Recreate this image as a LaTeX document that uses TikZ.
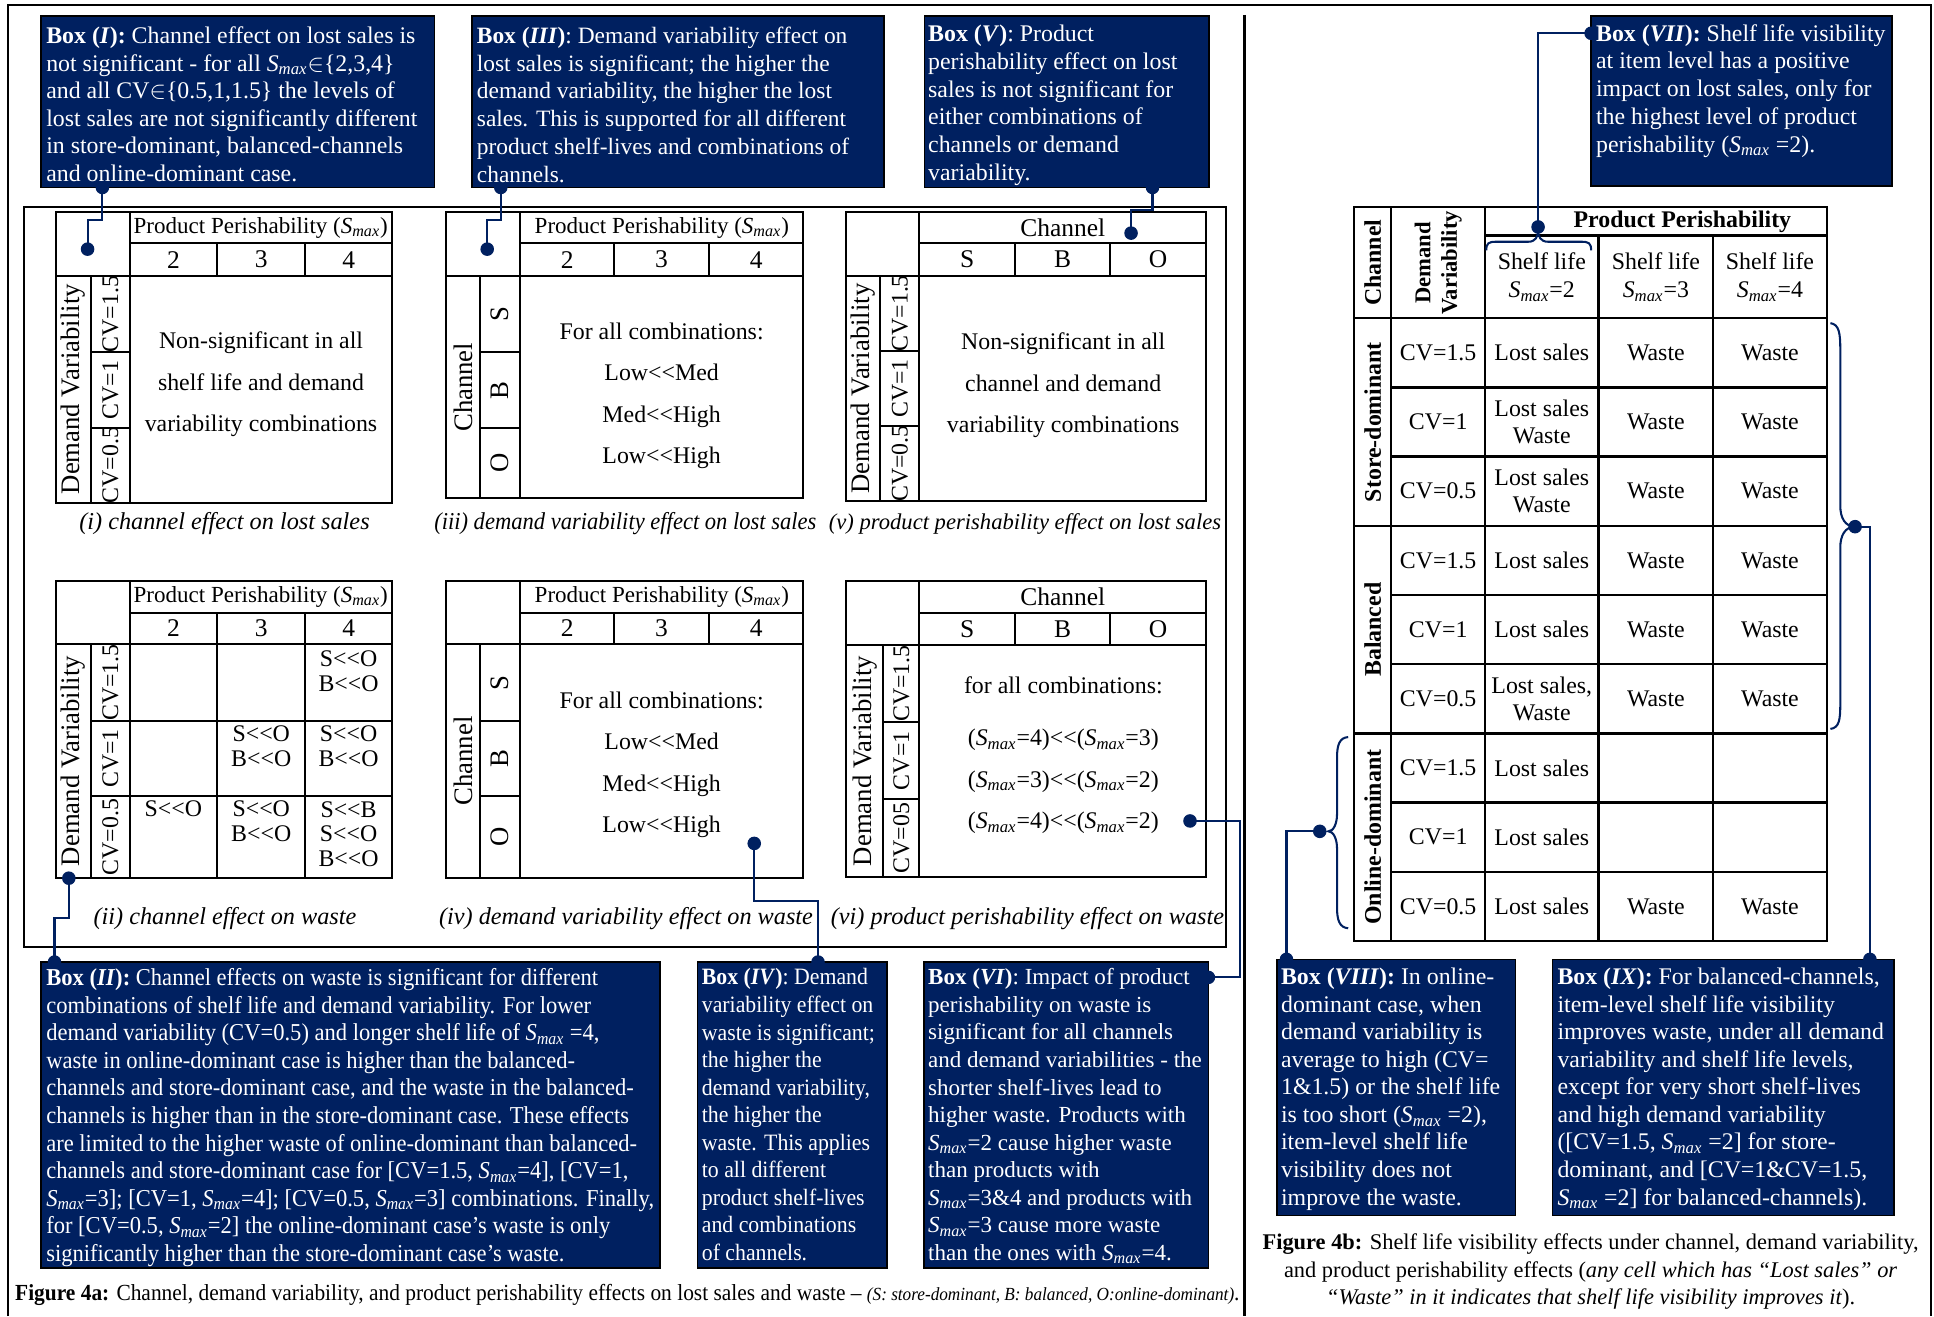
\documentclass[tikz,border=0pt]{standalone}
\usepackage{fontspec}
\setmainfont{Liberation Serif}
\newfontfamily\narrowf{Liberation Serif}[FakeStretch=0.93]
\usetikzlibrary{fit}
\definecolor{navy}{RGB}{0,32,96}
\newcommand{\Smx}{\textit{S}\textsubscript{\textit{max}}}
\newcommand{\dlt}{<\kern0pt<}
\begin{document}
\begin{tikzpicture}[x=0.6pt,y=-0.6pt,
  nbox/.style={draw=black,line width=0.8pt,fill=navy,inner sep=0pt},
  btext/.style={anchor=north west,inner sep=0pt,align=left,text=white,font=\fontsize{11.6}{13.4}\selectfont},
  gline/.style={line width=1pt},
  tlab/.style={inner sep=0pt,align=center,font=\fontsize{11.6}{13.4}\selectfont},
  hdr/.style={inner sep=0pt,align=center,font=\fontsize{11.2}{13.4}\selectfont},
  num/.style={inner sep=0pt,font=\fontsize{12.4}{14}\selectfont},
  cell/.style={inner sep=0pt,align=center,font=\fontsize{11.6}{12.1}\selectfont},
  body/.style={inner sep=0pt,align=center,font=\fontsize{11.6}{20.2}\selectfont},
  rlab/.style={inner sep=0pt,rotate=90,font=\fontsize{11.6}{13.4}\selectfont},
  big/.style={inner sep=0pt,rotate=90,font=\fontsize{13}{15}\selectfont},
  capt/.style={inner sep=0pt,font=\fontsize{11.8}{14}\selectfont\itshape},
  conn/.style={draw=navy,line width=1pt},
  pin/.style={circle,fill=navy,inner sep=0pt,minimum size=6.6pt},
  hb/.style={inner sep=0pt,align=center,font=\fontsize{11.6}{13.3}\selectfont\bfseries}
]
\useasboundingbox (0,0) rectangle (1568,1067);

% frames
\draw[line width=1.1pt] (6.4,1067) -- (6.4,4) -- (1565.6,4) -- (1565.6,1067);
\draw[line width=1.1pt] (1009,12) -- (1009,1067);
\draw[line width=1pt] (19.3,167.6) rectangle (994,767.5);

% ---------- table (i)
\draw[gline] (45.1,171.6) rectangle (317.6,407.5);
\draw[gline] (45.1,223.8) -- (317.6,223.8);
\draw[gline] (105.2,171.6) -- (105.2,407.5);
\draw[gline] (105.2,197.3) -- (317.6,197.3);
\draw[gline] (176,197.3) -- (176,223.8) (247.6,197.3) -- (247.6,223.8);
\draw[gline] (73.8,223.8) -- (73.8,407.5);
\draw[gline] (73.8,285.7) -- (105.2,285.7) (73.8,346.7) -- (105.2,346.7);
\node[hdr] (pp1) at (211.4,184.5) {Product Perishability (\Smx)};
\node[num] (n1a) at (140.6,210.5) {2};
\node[num] (n1b) at (211.8,210.5) {3};
\node[num] (n1c) at (282.8,210.5) {4};
\node[big] (dv1) at (59.5,315.6) {Demand Variability};
\node[rlab] (cv1a) at (89.5,254.7) {CV=1.5};
\node[rlab] (cv1b) at (89.5,316.2) {CV=1};
\node[rlab] (cv1c) at (89.5,377.1) {CV=0.5};
\node[body] (bd1) at (211.6,311.5) {Non-significant in all\\shelf life and demand\\variability combinations};
\node[capt] (cp1) at (182,424.5) {(i) channel effect on lost sales};

% ---------- table (iii)
\draw[gline] (361.8,171.6) rectangle (651.4,404);
\draw[gline] (361.8,223.8) -- (651.4,223.8);
\draw[gline] (421.9,171.6) -- (421.9,404);
\draw[gline] (421.9,197.3) -- (651.4,197.3);
\draw[gline] (497.8,197.3) -- (497.8,223.8) (575,197.3) -- (575,223.8);
\draw[gline] (389.2,223.8) -- (389.2,404);
\draw[gline] (389.2,285.7) -- (421.9,285.7) (389.2,347) -- (421.9,347);
\node[hdr] (pp3) at (536.6,184.5) {Product Perishability (\Smx)};
\node[num] (n3a) at (459.9,210.5) {2};
\node[num] (n3b) at (536.4,210.5) {3};
\node[num] (n3c) at (613.2,210.5) {4};
\node[big] (ch3) at (375.5,314) {Channel};
\node[big] (s3) at (405.5,254.7) {S};
\node[big] (bb3) at (405.5,316.3) {B};
\node[big] (o3) at (405.5,375.5) {O};
\node[body] (bd3) at (536.4,321) {For all combinations:\\Low\dlt Med\\Med\dlt High\\Low\dlt High};
\node[capt,font=\narrowf\fontsize{11.8}{14}\selectfont\itshape] (cp3) at (507,424.5) {(iii) demand variability effect on lost sales};

% ---------- table (v)
\draw[gline] (685.6,172.2) rectangle (977.8,406.2);
\draw[gline] (685.6,223.8) -- (977.8,223.8);
\draw[gline] (745.4,172.2) -- (745.4,406.2);
\draw[gline] (745.4,197.3) -- (977.8,197.3);
\draw[gline] (823,197.3) -- (823,223.8) (900,197.3) -- (900,223.8);
\draw[gline] (713.5,223.8) -- (713.5,406.2);
\draw[gline] (713.5,284.3) -- (745.4,284.3) (713.5,345.4) -- (745.4,345.4);
\node[num] (ch5) at (861.6,184.7) {Channel};
\node[num] (s5) at (784.2,210.5) {S};
\node[num] (bb5) at (861.5,210.5) {B};
\node[num] (o5) at (938.9,210.5) {O};
\node[big] (dv5) at (699.5,315) {Demand Variability};
\node[rlab] (cv5a) at (729.5,254) {CV=1.5};
\node[rlab] (cv5b) at (729.5,314.9) {CV=1};
\node[rlab] (cv5c) at (729.5,375.8) {CV=0.5};
\node[body] (bd5) at (862,312.3) {Non-significant in all\\channel and demand\\variability combinations};
\node[capt,font=\fontsize{11}{14}\selectfont\itshape] (cp5) at (831,424.5) {(v) product perishability effect on lost sales};

% ---------- table (ii)
\draw[gline] (45.1,470.8) rectangle (317.6,712.1);
\draw[gline] (45.1,522.4) -- (317.6,522.4);
\draw[gline] (105.2,470.8) -- (105.2,712.1);
\draw[gline] (105.2,496.7) -- (317.6,496.7);
\draw[gline] (176,496.7) -- (176,712.1) (247.6,496.7) -- (247.6,712.1);
\draw[gline] (73.8,522.4) -- (73.8,712.1);
\draw[gline] (73.8,584.6) -- (317.6,584.6) (73.8,645.4) -- (317.6,645.4);
\node[hdr] (pp2) at (211.4,483.7) {Product Perishability (\Smx)};
\node[num] (n2a) at (140.6,509.5) {2};
\node[num] (n2b) at (211.8,509.5) {3};
\node[num] (n2c) at (282.8,509.5) {4};
\node[big] (dv2) at (59.5,617) {Demand Variability};
\node[rlab] (cv2a) at (89.5,553.5) {CV=1.5};
\node[rlab] (cv2b) at (89.5,615) {CV=1};
\node[rlab] (cv2c) at (89.5,678.7) {CV=0.5};
\node[cell] (e13) at (282.6,544.5) {S\dlt O\\B\dlt O};
\node[cell] (e22) at (211.8,605.3) {S\dlt O\\B\dlt O};
\node[cell] (e23) at (282.6,605.3) {S\dlt O\\B\dlt O};
\node[cell] (e31) at (140.6,656) {S\dlt O};
\node[cell] (e32) at (211.8,666.1) {S\dlt O\\B\dlt O};
\node[cell] (e33) at (282.6,676.3) {S\dlt B\\S\dlt O\\B\dlt O};
\node[capt] (cp2) at (182.4,745) {(ii) channel effect on waste};

% ---------- table (iv)
\draw[gline] (361.8,470.8) rectangle (651.4,712);
\draw[gline] (361.8,522.4) -- (651.4,522.4);
\draw[gline] (421.9,470.8) -- (421.9,712);
\draw[gline] (421.9,496.7) -- (651.4,496.7);
\draw[gline] (497.8,496.7) -- (497.8,522.4) (575,496.7) -- (575,522.4);
\draw[gline] (389.2,522.4) -- (389.2,712);
\draw[gline] (389.2,584.6) -- (421.9,584.6) (389.2,645.4) -- (421.9,645.4);
\node[hdr] (pp4) at (536.6,483.7) {Product Perishability (\Smx)};
\node[num] (n4a) at (459.9,509.5) {2};
\node[num] (n4b) at (536.4,509.5) {3};
\node[num] (n4c) at (613.2,509.5) {4};
\node[big] (ch4) at (375.5,617) {Channel};
\node[big] (s4) at (405.5,553.5) {S};
\node[big] (bb4) at (405.5,615) {B};
\node[big] (o4) at (405.5,678.7) {O};
\node[body] (bd4) at (536.4,619.9) {For all combinations:\\Low\dlt Med\\Med\dlt High\\Low\dlt High};
\node[capt] (cp4) at (507.5,745) {(iv) demand variability effect on waste};

% ---------- table (vi)
\draw[gline] (685.6,470.8) rectangle (977.8,710.8);
\draw[gline] (685.6,523) -- (977.8,523);
\draw[gline] (745.4,470.8) -- (745.4,710.8);
\draw[gline] (745.4,496.7) -- (977.8,496.7);
\draw[gline] (823,496.7) -- (823,523) (900,496.7) -- (900,523);
\draw[gline] (716.2,523) -- (716.2,710.8);
\draw[gline] (716.2,585.6) -- (745.4,585.6) (716.2,648) -- (745.4,648);
\node[num] (ch6) at (861.6,483.7) {Channel};
\node[num] (s6) at (784.2,509.8) {S};
\node[num] (bb6) at (861.5,509.8) {B};
\node[num] (o6) at (938.9,509.8) {O};
\node[big] (dv6) at (701,617) {Demand Variability};
\node[rlab] (cv6a) at (730.8,554.3) {CV=1.5};
\node[rlab] (cv6b) at (730.8,616.8) {CV=1};
\node[rlab] (cv6c) at (730.8,679.4) {CV=05};
\node[body,font=\fontsize{11.6}{20.1}\selectfont] (bd6) at (862.1,612.2) {for all combinations:\\[5.4pt](\Smx=4)\dlt(\Smx=3)\\(\Smx=3)\dlt(\Smx=2)\\(\Smx=4)\dlt(\Smx=2)};
\node[capt] (cp6) at (833,745) {(vi) product perishability effect on waste};

% ---------- table 4b
\draw[line width=1.1pt] (1098,168) rectangle (1481,762.9);
\draw[line width=1.1pt] (1128,168) -- (1128,762.9) (1204,168) -- (1204,762.9);
\draw[line width=1.1pt] (1296,191) -- (1296,762.9) (1389,191) -- (1389,762.9);
\draw[line width=1.1pt] (1204,191) -- (1481,191) (1098,258) -- (1481,258);
\draw[line width=1.1pt] (1128,314.1) -- (1481,314.1) (1128,370.2) -- (1481,370.2) (1098,426.3) -- (1481,426.3);
\draw[line width=1.1pt] (1128,482.4) -- (1481,482.4) (1128,538.5) -- (1481,538.5) (1098,594.6) -- (1481,594.6);
\draw[line width=1.1pt] (1128,650.7) -- (1481,650.7) (1128,706.8) -- (1481,706.8);
\node[hb] (pph) at (1364,179.5) {Product Perishability};
\node[hb,rotate=90] (chh) at (1113,213) {Channel};
\node[hb,rotate=90,font=\fontsize{11}{12.8}\selectfont\bfseries] (dvh) at (1166,213) {Demand\\Variability};
\node[tlab,font=\fontsize{11.6}{13.8}\selectfont] (sl2) at (1250,224.5) {Shelf life\\\Smx=2};
\node[tlab,font=\fontsize{11.6}{13.8}\selectfont] (sl3) at (1342.5,224.5) {Shelf life\\\Smx=3};
\node[tlab,font=\fontsize{11.6}{13.8}\selectfont] (sl4) at (1435,224.5) {Shelf life\\\Smx=4};
\node[hb,rotate=90] (sdh) at (1113,342.2) {Store-dominant};
\node[hb,rotate=90] (bah) at (1113,510.5) {Balanced};
\node[hb,rotate=90] (odh) at (1113,678.7) {Online-dominant};
\foreach \i/\cv in {0/1.5,1/1,2/0.5,3/1.5,4/1,5/0.5,6/1.5,7/1,8/0.5}
  \node[tlab] (cv\i) at (1166,{286.05+56.1*\i}) {CV=\cv};
\foreach \i in {0,3,4,6,7,8}
  \node[tlab] (ls\i) at (1250,{286.05+56.1*\i}) {Lost sales};
\node[cell,font=\fontsize{11.6}{13.2}\selectfont] (ls1) at (1250,342.15) {Lost sales\\Waste};
\node[cell,font=\fontsize{11.6}{13.2}\selectfont] (ls2) at (1250,398.25) {Lost sales\\Waste};
\node[cell,font=\fontsize{11.6}{13.2}\selectfont] (ls5) at (1250,566.55) {Lost sales,\\Waste};
\foreach \i in {0,1,2,3,4,5,8}{
  \node[tlab] (wa\i) at (1342.5,{286.05+56.1*\i}) {Waste};
  \node[tlab] (wb\i) at (1435,{286.05+56.1*\i}) {Waste};
}

% braces
\draw[conn] (1205,203) .. controls (1205,197) and (1207,196) .. (1213,196) -- (1239,196) .. controls (1245,196) and (1247,192) .. (1247,186)
  .. controls (1247,192) and (1249,196) .. (1255,196) -- (1282,196) .. controls (1288,196) and (1290,197) .. (1290,203);
\draw[conn] (1484,262) .. controls (1491,263) and (1492,270) .. (1492,283) -- (1492,410) .. controls (1492,420) and (1496,427) .. (1504,427)
  .. controls (1496,427) and (1492,434) .. (1492,444) -- (1492,571) .. controls (1492,584) and (1491,590) .. (1484,591);
\draw[conn] (1093,597.6) .. controls (1086,598) and (1084,604) .. (1084,614) -- (1084,660) .. controls (1084,668) and (1081,674) .. (1077,674)
  .. controls (1081,674) and (1084,680) .. (1084,688) -- (1084,736) .. controls (1084,746) and (1086,752) .. (1093,752.6);

% ---------- boxes
\node[nbox,fit={(33.5,13) (352.3,152)}] (b1) {};
\node[nbox,fit={(382.5,13) (716.7,152)}] (b3) {};
\node[nbox,fit={(749.5,13) (980,152)}] (b5) {};
\node[nbox,fit={(1290,13) (1534,151)}] (b7) {};
\node[nbox,fit={(33.5,780) (535.2,1028)}] (b2) {};
\node[nbox,fit={(565.4,780) (719,1028)}] (b4) {};
\node[nbox,fit={(749.2,780) (979.7,1028)}] (b6) {};
\node[nbox,fit={(1035.4,777.8) (1228.7,985.4)}] (b8) {};
\node[nbox,fit={(1258.8,777.8) (1535.7,985.4)}] (b9) {};

% ---------- connectors and pins
\node[pin] (d1a) at (83,152) {};
\node[pin] (d1b) at (71,202) {};
\draw[conn] (d1a.center) -- ++(0,26) -| (d1b.center);
\node[pin] (d3a) at (406,152) {};
\node[pin] (d3b) at (395,202) {};
\draw[conn] (d3a.center) -- ++(0,26) -| (d3b.center);
\node[pin] (d5a) at (934.4,152) {};
\node[pin] (d5b) at (917,189) {};
\draw[conn] (d5a.center) -- ++(0,18) -| (d5b.center);
\node[pin] (d2a) at (44.2,780) {};
\node[pin] (d2b) at (55.8,712) {};
\draw[conn] (d2a.center) -- ++(0,-35.4) -| (d2b.center);
\node[pin] (d4a) at (663.2,780) {};
\node[pin] (d4b) at (611.5,683.8) {};
\draw[conn] (d4a.center) -- ++(0,-49.8) -| (d4b.center);
\node[pin] (d6a) at (979.7,792.4) {};
\node[pin] (d6b) at (964.8,665.6) {};
\draw[conn] (d6a.center) -- ++(25.3,0) |- (d6b.center);
\node[pin] (d7a) at (1290,27) {};
\node[pin] (d7b) at (1247,184) {};
\draw[conn] (d7a.center) -| (d7b.center);
\node[pin] (d9a) at (1516,777.8) {};
\node[pin] (d9b) at (1504,427) {};
\draw[conn] (d9b.center) -| (d9a.center);
\node[pin] (d8a) at (1043,777.8) {};
\node[pin] (d8b) at (1070,674) {};
\draw[conn] (d8b.center) -| (d8a.center);

% ---------- box texts
\node[btext] (t1) at (37.2,21.5) {\textbf{Box (\textit{I}):} Channel effect on lost sales is\\
not significant - for all \Smx$\in$\{2,3,4\}\\
and all CV$\in$\{0.5,1,1.5\} the levels of\\
lost sales are not significantly different\\
in store-dominant, balanced-channels\\
and online-dominant case.};
\node[btext,font=\fontsize{11.4}{13.5}\selectfont] (t3) at (386.3,21.5) {\textbf{Box (\textit{III})}: Demand variability effect on\\
lost sales is significant; the higher the\\
demand variability, the higher the lost\\
sales. This is supported for all different\\
product shelf-lives and combinations of\\
channels.};
\node[btext,font=\fontsize{11.6}{13.5}\selectfont] (t5) at (752.2,20) {\textbf{Box (\textit{V})}: Product\\
perishability effect on lost\\
sales is not significant for\\
either combinations of\\
channels or demand\\
variability.};
\node[btext,font=\fontsize{11.6}{13.5}\selectfont] (t7) at (1293.7,19.5) {\textbf{Box (\textit{VII}):} Shelf life visibility\\
at item level has a positive\\
impact on lost sales, only for\\
the highest level of product\\
perishability (\Smx\ =2).};
\node[btext,font=\narrowf\fontsize{11.8}{13.4}\selectfont] (t2) at (37.2,785) {\textbf{Box (\textit{II}):} Channel effects on waste is significant for different\\
combinations of shelf life and demand variability. For lower\\
demand variability (CV=0.5) and longer shelf life of \Smx\ =4,\\
waste in online-dominant case is higher than the balanced-\\
channels and store-dominant case, and the waste in the balanced-\\
channels is higher than in the store-dominant case. These effects\\
are limited to the higher waste of online-dominant than balanced-\\
channels and store-dominant case for [CV=1.5, \Smx=4], [CV=1,\\
\Smx=3]; [CV=1, \Smx=4]; [CV=0.5, \Smx=3] combinations. Finally,\\
for [CV=0.5, \Smx=2] the online-dominant case’s waste is only\\
significantly higher than the store-dominant case’s waste.};
\node[btext,font=\narrowf\fontsize{11.4}{13.4}\selectfont] (t4) at (568.7,785) {\textbf{Box (\textit{IV})}: Demand\\
variability effect on\\
waste is significant;\\
the higher the\\
demand variability,\\
the higher the\\
waste. This applies\\
to all different\\
product shelf-lives\\
and combinations\\
of channels.};
\node[btext,font=\fontsize{11.2}{13.4}\selectfont] (t6) at (752.2,785) {\textbf{Box (\textit{VI})}: Impact of product\\
perishability on waste is\\
significant for all channels\\
and demand variabilities - the\\
shorter shelf-lives lead to\\
higher waste. Products with\\
\Smx=2 cause higher waste\\
than products with\\
\Smx=3\&4 and products with\\
\Smx=3 cause more waste\\
than the ones with \Smx=4.};
\node[btext] (t8) at (1038.3,784.6) {\textbf{Box (\textit{VIII}):} In online-\\
dominant case, when\\
demand variability is\\
average to high (CV=\\
1\&1.5) or the shelf life\\
is too short (\Smx\ =2),\\
item-level shelf life\\
visibility does not\\
improve the waste.};
\node[btext] (t9) at (1262.4,784.6) {\textbf{Box (\textit{IX}):} For balanced-channels,\\
item-level shelf life visibility\\
improves waste, under all demand\\
variability and shelf life levels,\\
except for very short shelf-lives\\
and high demand variability\\
([CV=1.5, \Smx\ =2] for store-\\
dominant, and [CV=1\&CV=1.5,\\
\Smx\ =2] for balanced-channels).};

% ---------- figure captions
\node[anchor=west,inner sep=0pt,font=\narrowf\fontsize{11.2}{13}\selectfont] (cap4a) at (12,1050)
  {\textbf{Figure 4a:} Channel, demand variability, and product perishability effects on lost sales and waste – {\fontsize{9}{10}\selectfont\itshape (S: store-dominant, B: balanced, O:online-dominant)}.};
\node[inner sep=0pt,align=center,font=\fontsize{10.9}{13.3}\selectfont] (cap4b) at (1289.6,1031)
  {\textbf{Figure 4b:} Shelf life visibility effects under channel, demand variability,\\
  and product perishability effects (\textit{any cell which has “Lost sales” or}\\
  \textit{“Waste” in it indicates that shelf life visibility improves it}).};
\end{tikzpicture}
\end{document}
